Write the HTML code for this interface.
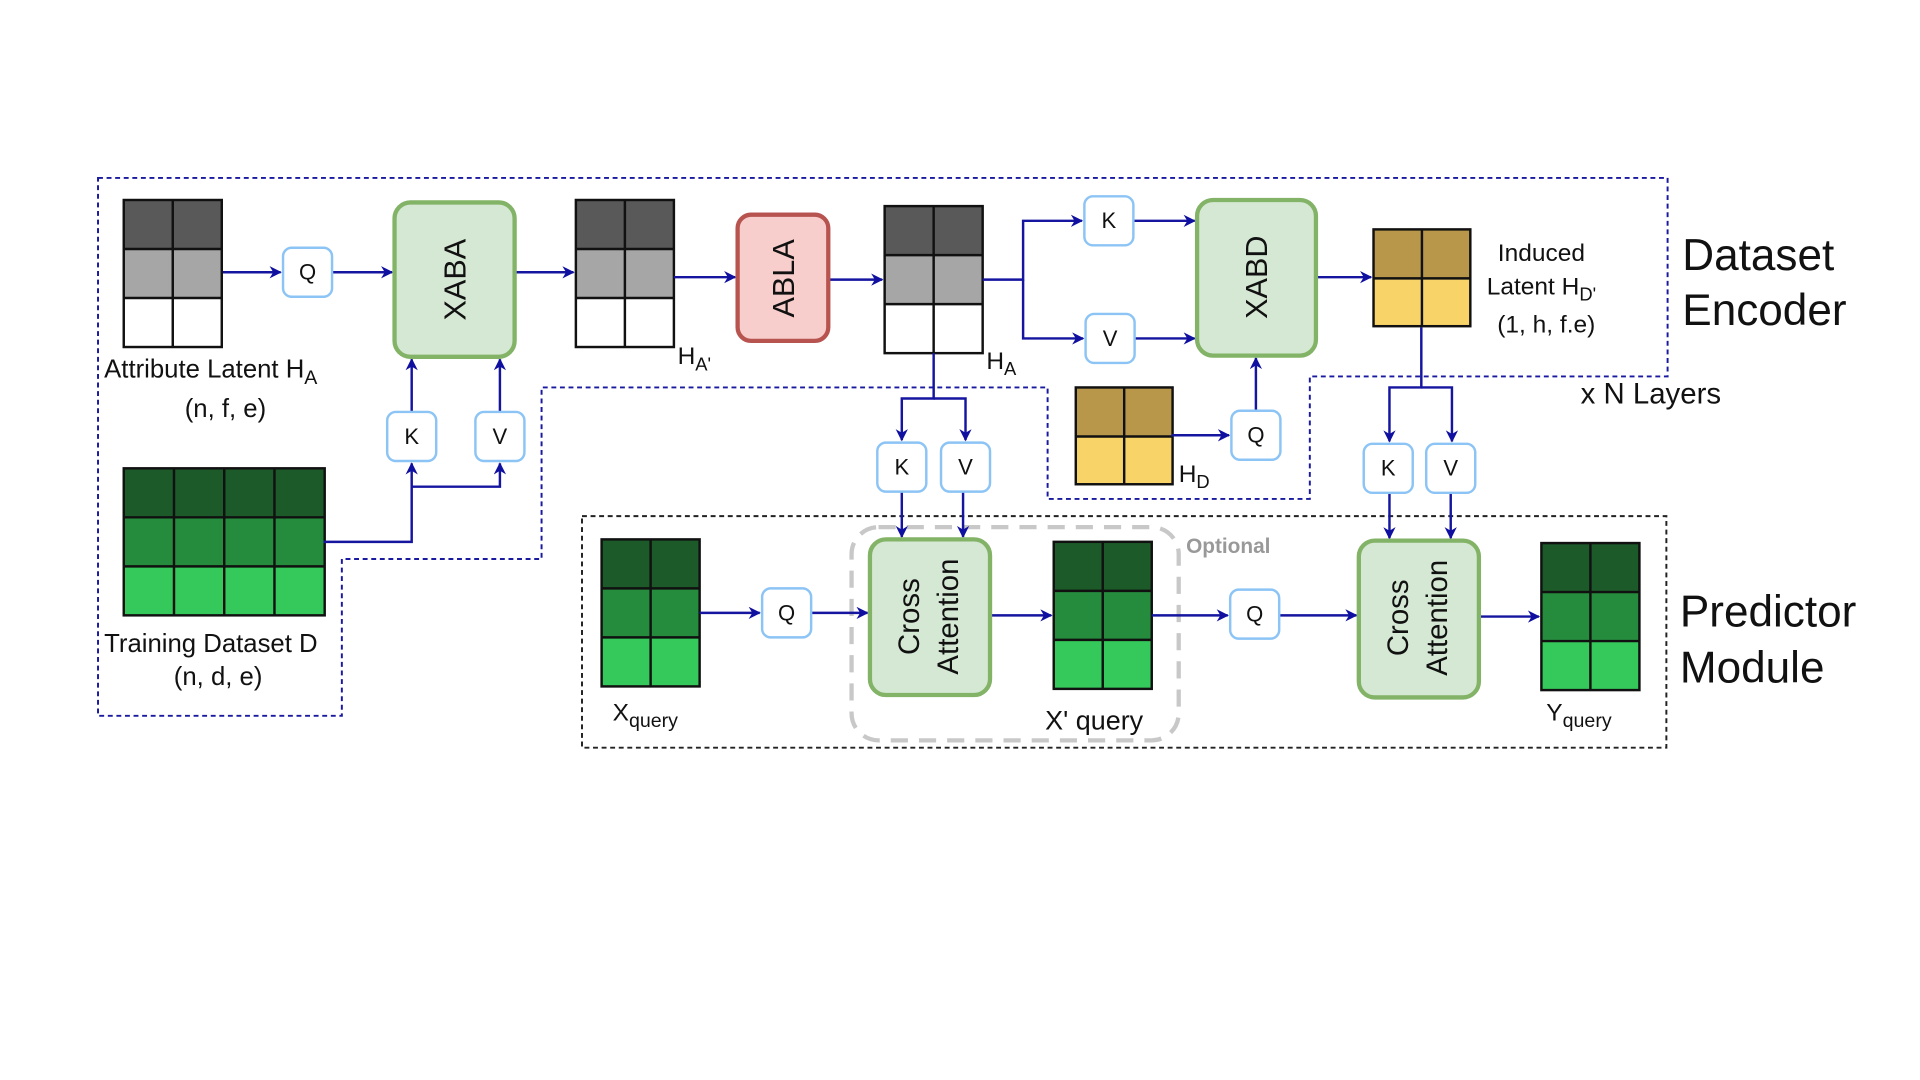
<!DOCTYPE html>
<html><head><meta charset="utf-8"><style>
html,body{margin:0;padding:0;background:#fff;width:1920px;height:1080px;overflow:hidden}
svg{display:block}
text{font-family:"Liberation Sans",sans-serif;fill:#111}
</style></head><body>
<svg width="1920" height="1080" viewBox="0 0 1567 881" xmlns="http://www.w3.org/2000/svg">
<defs>
<marker id="a" viewBox="0 0 10 10" refX="9" refY="5" markerWidth="5" markerHeight="5" orient="auto"><path d="M0,0 L10,5 L0,10 L3,5z" fill="#1010a0"/></marker>
<g id="gray"><rect x="0" y="0" width="80" height="40" fill="#595959"/><rect x="0" y="40" width="80" height="40" fill="#a6a6a6"/><rect x="0" y="80" width="80" height="40" fill="#fff"/><path d="M0,40H80M0,80H80M40,0V120" stroke="#111" stroke-width="2"/><rect x="0" y="0" width="80" height="120" fill="none" stroke="#111" stroke-width="2"/></g>
<g id="green"><rect x="0" y="0" width="80" height="40" fill="#1c5a2a"/><rect x="0" y="40" width="80" height="40" fill="#268c3d"/><rect x="0" y="80" width="80" height="40" fill="#35c85a"/><path d="M0,40H80M0,80H80M40,0V120" stroke="#111" stroke-width="2"/><rect x="0" y="0" width="80" height="120" fill="none" stroke="#111" stroke-width="2"/></g>
<g id="gold"><rect x="0" y="0" width="79" height="40" fill="#b8974a"/><rect x="0" y="40" width="79" height="39" fill="#f8d468"/><path d="M0,40H79M39.5,0V79" stroke="#111" stroke-width="2"/><rect x="0" y="0" width="79" height="79" fill="none" stroke="#111" stroke-width="2"/></g>
</defs>

<path d="M80,145H1361V307H1069V407H855V316H442V456H279V584H80Z" fill="none" stroke="#1a1aa0" stroke-width="1.6" stroke-dasharray="4,3"/>
<rect x="475" y="421" width="885" height="189" fill="none" stroke="#222" stroke-width="1.6" stroke-dasharray="4,3"/>
<rect x="695" y="430" width="267" height="174" rx="22" fill="none" stroke="#c8c8c8" stroke-width="3.5" stroke-dasharray="14,9"/>

<use href="#gray" x="101" y="163"/>
<use href="#gray" x="470" y="163"/>
<use href="#gray" x="722" y="168"/>
<use href="#gold" x="1121" y="187"/>
<use href="#gold" x="878" y="316"/>
<g transform="translate(101,382)"><rect width="164" height="40" fill="#1c5a2a"/><rect y="40" width="164" height="40" fill="#268c3d"/><rect y="80" width="164" height="40" fill="#35c85a"/><path d="M0,40H164M0,80H164M41,0V120M82,0V120M123,0V120" stroke="#111" stroke-width="2"/><rect width="164" height="120" fill="none" stroke="#111" stroke-width="2"/></g>
<use href="#green" x="491" y="440"/>
<use href="#green" x="860" y="442"/>
<use href="#green" x="1258" y="443"/>

<g stroke="#1515a0" stroke-width="2" fill="none">
<path d="M182,222H229" marker-end="url(#a)"/>
<path d="M271,222H320" marker-end="url(#a)"/>
<path d="M420,222H468" marker-end="url(#a)"/>
<path d="M550,226H600" marker-end="url(#a)"/>
<path d="M676,228H720" marker-end="url(#a)"/>
<path d="M802,228H835V180H883" marker-end="url(#a)"/>
<path d="M835,228V276H884" marker-end="url(#a)"/>
<path d="M925,180H975" marker-end="url(#a)"/>
<path d="M926,276H975" marker-end="url(#a)"/>
<path d="M1074,226H1119" marker-end="url(#a)"/>
<path d="M956,355H1003" marker-end="url(#a)"/>
<path d="M1025,335V292" marker-end="url(#a)"/>
<path d="M1160,267V316H1134V360" marker-end="url(#a)"/>
<path d="M1160,316H1185V360" marker-end="url(#a)"/>
<path d="M1134,402V439" marker-end="url(#a)"/>
<path d="M1184,402V439" marker-end="url(#a)"/>
<path d="M762,288V325H736V359" marker-end="url(#a)"/>
<path d="M762,325H788V359" marker-end="url(#a)"/>
<path d="M736,401V438" marker-end="url(#a)"/>
<path d="M786,401V438" marker-end="url(#a)"/>
<path d="M264,442H336V378" marker-end="url(#a)"/>
<path d="M336,397H408V378" marker-end="url(#a)"/>
<path d="M336,336V293" marker-end="url(#a)"/>
<path d="M408,336V293" marker-end="url(#a)"/>
<path d="M571,500H620" marker-end="url(#a)"/>
<path d="M662,500H708" marker-end="url(#a)"/>
<path d="M808,502H858" marker-end="url(#a)"/>
<path d="M940,502H1002" marker-end="url(#a)"/>
<path d="M1044,502H1107" marker-end="url(#a)"/>
<path d="M1207,503H1256" marker-end="url(#a)"/>
</g>

<g fill="#fff" stroke="#8cc4f5" stroke-width="2">
<rect x="231" y="202" width="40" height="40" rx="7"/>
<rect x="885" y="160" width="40" height="40" rx="7"/>
<rect x="886" y="256" width="40" height="40" rx="7"/>
<rect x="1005" y="335" width="40" height="40" rx="7"/>
<rect x="716" y="361" width="40" height="40" rx="7"/>
<rect x="768" y="361" width="40" height="40" rx="7"/>
<rect x="1113" y="362" width="40" height="40" rx="7"/>
<rect x="1164" y="362" width="40" height="40" rx="7"/>
<rect x="316" y="336" width="40" height="40" rx="7"/>
<rect x="388" y="336" width="40" height="40" rx="7"/>
<rect x="622" y="480" width="40" height="40" rx="7"/>
<rect x="1004" y="481" width="40" height="40" rx="7"/>
</g>
<g font-size="18" text-anchor="middle">
<text x="251" y="228">Q</text>
<text x="905" y="186">K</text>
<text x="906" y="282">V</text>
<text x="1025" y="361">Q</text>
<text x="736" y="387">K</text>
<text x="788" y="387">V</text>
<text x="1133" y="388">K</text>
<text x="1184" y="388">V</text>
<text x="336" y="362">K</text>
<text x="408" y="362">V</text>
<text x="642" y="506">Q</text>
<text x="1024" y="507">Q</text>
</g>

<g stroke-width="3.5">
<rect x="322" y="165" width="98" height="126" rx="13" fill="#d5e8d4" stroke="#82b366"/>
<rect x="977" y="163" width="97" height="127" rx="13" fill="#d5e8d4" stroke="#82b366"/>
<rect x="602" y="175" width="74" height="103" rx="11" fill="#f8cecc" stroke="#b85450"/>
<rect x="710" y="440" width="98" height="127" rx="13" fill="#d5e8d4" stroke="#82b366"/>
<rect x="1109" y="441" width="98" height="128" rx="13" fill="#d5e8d4" stroke="#82b366"/>
</g>
<g font-size="25" text-anchor="middle">
<text transform="translate(380,228) rotate(-90)">XABA</text>
<text transform="translate(1034,226) rotate(-90)">XABD</text>
<text transform="translate(648,227) rotate(-90)">ABLA</text>
<text transform="translate(750,503) rotate(-90)" font-size="24">Cross</text>
<text transform="translate(782,503) rotate(-90)" font-size="24">Attention</text>
<text transform="translate(1149,504) rotate(-90)" font-size="24">Cross</text>
<text transform="translate(1181,504) rotate(-90)" font-size="24">Attention</text>
</g>

<text x="85" y="308" font-size="21">Attribute Latent H<tspan font-size="16" dy="5">A</tspan></text>
<text x="184" y="340" font-size="21" text-anchor="middle">(n, f, e)</text>
<text x="85" y="532" font-size="21">Training Dataset D</text>
<text x="178" y="559" font-size="21" text-anchor="middle">(n, d, e)</text>
<text x="553" y="297" font-size="20">H<tspan font-size="15" dy="5">A'</tspan></text>
<text x="805" y="301" font-size="20">H<tspan font-size="15" dy="5">A</tspan></text>
<text x="962" y="393" font-size="20">H<tspan font-size="15" dy="5">D</tspan></text>
<text x="1258" y="213" font-size="20" text-anchor="middle">Induced</text>
<text x="1258" y="240" font-size="20" text-anchor="middle">Latent H<tspan font-size="15" dy="5">D'</tspan></text>
<text x="1262" y="271" font-size="20" text-anchor="middle">(1, h, f.e)</text>
<text x="1373" y="220" font-size="36">Dataset</text>
<text x="1373" y="265" font-size="36">Encoder</text>
<text x="1290" y="329" font-size="24">x N Layers</text>
<text x="1371" y="511" font-size="36">Predictor</text>
<text x="1371" y="557" font-size="36">Module</text>
<text x="500" y="588" font-size="20">X<tspan font-size="16" dy="5">query</tspan></text>
<text x="853" y="595" font-size="22">X' query</text>
<text x="1262" y="588" font-size="20">Y<tspan font-size="16" dy="5">query</tspan></text>
<text x="968" y="451" font-size="17" font-weight="bold" style="fill:#999">Optional</text>
</svg>
</body></html>
